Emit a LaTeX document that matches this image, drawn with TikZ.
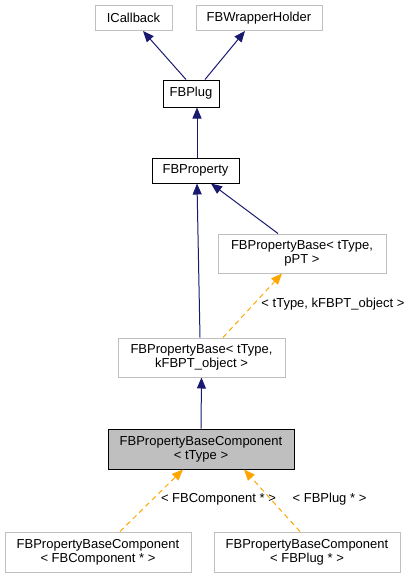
\documentclass[tikz,border=0pt]{standalone}
\usepackage{fontspec}
\setmainfont{Liberation Sans}
\usetikzlibrary{arrows.meta}
\definecolor{edgeblue}{HTML}{191970}
\definecolor{edgeorange}{HTML}{FFA500}
\definecolor{boxgray}{HTML}{BFBFBF}
\tikzset{
  box/.style={draw=boxgray, line width=1pt, fill=white, inner sep=0pt, align=center,
    font=\fontsize{13}{14}\selectfont},
  boldbox/.style={box, draw=black},
  inh/.style={draw=edgeblue, line width=1pt, -{Triangle[length=11pt,width=9pt]}},
  tmpl/.style={draw=edgeorange, line width=1pt, dash pattern=on 5pt off 4pt,
    -{Triangle[length=11pt,width=9pt]}},
  lbl/.style={font=\fontsize{13}{14}\selectfont, inner sep=0pt}
}
\begin{document}
\begin{tikzpicture}[x=1pt,y=-1pt]
\useasboundingbox (0,0) rectangle (414,579);
\node[box, minimum width=77pt, minimum height=25pt] (icb) at (133.5,18) {ICallback};
\node[box, minimum width=126pt, minimum height=25pt] (fbw) at (259,18) {FBWrapperHolder};
\node[boldbox, minimum width=56pt, minimum height=27pt] (plug) at (191,93.5) {FBPlug};
\node[boldbox, minimum width=87pt, minimum height=25pt] (prop) at (195.5,170.5) {FBProperty};
\node[box, minimum width=168pt, minimum height=39pt] (ppt) at (302,253.5) {FBPropertyBase< tType,\\pPT >};
\node[box, minimum width=167pt, minimum height=39pt] (kobj) at (201.5,357.5) {FBPropertyBase< tType,\\kFBPT\_object >};
\node[boldbox, fill=boxgray, minimum width=186pt, minimum height=40pt] (comp) at (201,449) {FBPropertyBaseComponent\\< tType >};
\node[box, minimum width=186pt, minimum height=40pt] (bl) at (98,552) {FBPropertyBaseComponent\\< FBComponent * >};
\node[box, minimum width=186pt, minimum height=40pt] (br) at (307,552) {FBPropertyBaseComponent\\< FBPlug * >};

\draw[inh] ([xshift=-5pt]plug.north) -- ([xshift=9.5pt]icb.south);
\draw[inh] ([xshift=14pt]plug.north) -- ([xshift=-14pt]fbw.south);
\draw[inh] ([xshift=6pt]plug.south |- prop.north) -- ([xshift=6pt]plug.south);
\draw[inh] ([xshift=-1.5pt]kobj.north) -- ([xshift=1.5pt]prop.south);
\draw[inh] ([xshift=-24pt]ppt.north) -- ([xshift=15.5pt]prop.south);
\draw[tmpl] ([xshift=21.5pt]kobj.north) -- ([xshift=-20pt]ppt.south);
\draw[inh] (comp.north) -- (kobj.south);
\draw[tmpl] ([xshift=22pt]bl.north) -- ([xshift=-18pt]comp.south);
\draw[tmpl] ([xshift=-7pt]br.north) -- ([xshift=43pt]comp.south);
\node[lbl] (l1) at (333,304) {< tType, kFBPT\_object >};
\node[lbl] (l2) at (218.5,499) {< FBComponent * >};
\node[lbl] (l3) at (329.5,499) {< FBPlug * >};
\end{tikzpicture}
\end{document}
